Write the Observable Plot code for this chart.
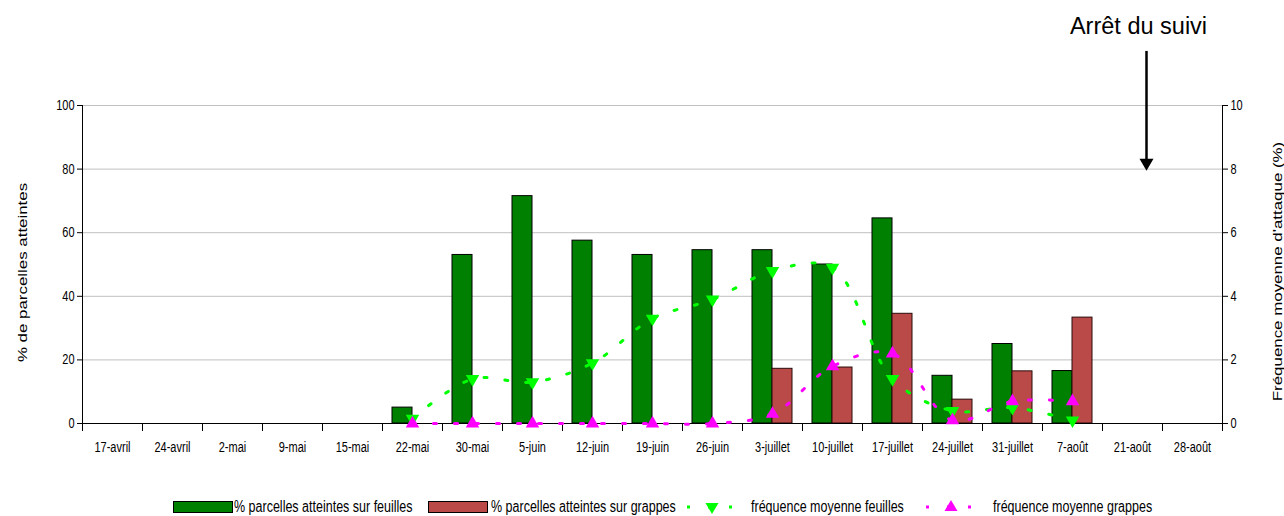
<!DOCTYPE html>
<html>
<head>
<meta charset="utf-8">
<script src="https://cdn.jsdelivr.net/npm/d3@7"></script>
<script src="https://cdn.jsdelivr.net/npm/@observablehq/plot@0.6"></script>
<style>
  html, body { margin: 0; padding: 0; background: #fff; overflow: hidden; }
  #chart { position: relative; width: 1284px; height: 516px; font-family: "Liberation Sans", Arial, sans-serif; }
  #legend { position: absolute; left: 0; top: 470px; width: 1284px; height: 46px; }
  #legend .item { position: absolute; top: 37px; transform: translateY(-50%); display: flex; align-items: center; }
  #legend .sw { display: inline-block; width: 58px; height: 10px; border: 1px solid #000; }
  #legend .lab { position: absolute; top: 37px; font-size: 12.5px; color: #000; white-space: nowrap;
                 transform: translateY(-50%) scaleY(1.25); line-height: 1; }
</style>
</head>
<body>
<div id="chart"><div id="legend"></div></div>
<script>
// Weekly observation dates
const dates = ["17-avril","24-avril","2-mai","9-mai","15-mai","22-mai","30-mai","5-juin","12-juin","19-juin",
               "26-juin","3-juillet","10-juillet","17-juillet","24-juillet","31-juillet","7-août","21-août","28-août"];

// % of plots affected (left axis)
const pctFeuilles = [null,null,null,null,null, 5, 53, 71.5, 57.5, 53, 54.5, 54.5, 50, 64.5, 15, 25, 16.5, null, null];
const pctGrappes  = [null,null,null,null,null, null, null, null, null, null, null, 17.2, 17.6, 34.5, 7.5, 16.4, 33.3, null, null];

// Mean attack frequency, % (right axis)
const freqFeuilles = [null,null,null,null,null, 0.15, 1.4, 1.3, 1.9, 3.3, 3.9, 4.8, 4.9, 1.4, 0.4, 0.5, 0.1, null, null];
const freqGrappes  = [null,null,null,null,null, 0, 0, 0, 0, 0, 0, 0.3, 1.8, 2.2, 0.1, 0.7, 0.7, null, null];

// Axis ticks and titles
const pctTicks = [0, 20, 40, 60, 80, 100];
const freqTicks = [0, 2, 4, 6, 8, 10];
const leftTitle = "% de parcelles atteintes";
const rightTitle = "Fréquence moyenne d'attaque (%)";

// End-of-monitoring note
const note = {label: "Arrêt du suivi", date: "21-août", textAt: 125, from: 117, to: 83, head: 82};

const series = {
  pctF: "% parcelles atteintes sur feuilles",
  pctG: "% parcelles atteintes sur grappes",
  frF: "fréquence moyenne feuilles",
  frG: "fréquence moyenne grappes"
};

const green = "#008000", red = "#B94A48", lime = "#00FF00", magenta = "#FF00FF";

const W = 1284, H = 470, mL = 82, mR = 62, mT = 105, mB = 47;
const step = (W - mL - mR) / dates.length;
const half = step / 3;            // each bar is a third of the category width
const freqScale = 100 / freqTicks[freqTicks.length - 1];

const rows = dates.map((d, i) => ({date: d, pf: pctFeuilles[i], pg: pctGrappes[i], ff: freqFeuilles[i], fg: freqGrappes[i]}));
const rowsFF = rows.filter(r => r.ff != null);
const rowsFG = rows.filter(r => r.fg != null);

const dash = {strokeWidth: 3, strokeDasharray: "3,18", curve: "catmull-rom"};

const chart = Plot.plot({
  width: W, height: H,
  marginLeft: mL, marginRight: mR, marginTop: mT, marginBottom: mB,
  style: {fontFamily: "'Liberation Sans', Arial, sans-serif", background: "white", color: "#000"},
  x: {type: "band", domain: dates, paddingInner: 1/3, paddingOuter: 1/6, axis: null, label: null},
  y: {domain: [0, 100], axis: null, label: null},
  marks: [
    Plot.ruleY(pctTicks.filter(v => v > 0), {stroke: "#c0c0c0", strokeWidth: 1}),
    // bars
    Plot.barY(rows, {filter: r => r.pf != null, x: "date", y1: 0, y2: "pf", insetRight: half, fill: green, stroke: "#000", strokeWidth: 1}),
    Plot.barY(rows, {filter: r => r.pg != null, x: "date", y1: 0, y2: "pg", insetLeft: half, fill: red, stroke: "#2a0a0a", strokeWidth: 1}),
    // axes
    Plot.ruleY([0], {stroke: "#000"}),
    Plot.axisX(dates, {tickSize: 8, tickFormat: () => "", dx: -step / 2, stroke: "#000"}),
    Plot.axisX([dates[dates.length - 1]], {tickSize: 8, tickFormat: () => "", dx: step / 2, stroke: "#000"}),
    Plot.axisX({tickSize: 0, tickPadding: 18, fontSize: 11}),
    Plot.ruleX([dates[0]], {dx: -step / 2, y1: 0, y2: 100, stroke: "#000"}),
    Plot.ruleX([dates[dates.length - 1]], {dx: step / 2, y1: 0, y2: 100, stroke: "#000"}),
    Plot.axisY({anchor: "left", ticks: pctTicks, tickSize: 5, tickPadding: 3, fontSize: 11, label: null}),
    Plot.axisY({anchor: "right", ticks: freqTicks.map(v => v * freqScale), tickFormat: d => d / freqScale,
                tickSize: 5, tickPadding: 3, fontSize: 11, label: null}),
    Plot.text([leftTitle], {frameAnchor: "left", textAnchor: "middle", rotate: -90, dx: -60, dy: 8, fontSize: 13}),
    Plot.text([rightTitle], {frameAnchor: "right", textAnchor: "middle", rotate: -90, dx: 55, dy: 7, fontSize: 13}),
    // frequency lines
    Plot.line(rowsFF, {x: "date", y: r => r.ff * freqScale, stroke: lime, ...dash}),
    Plot.dot(rowsFF, {x: "date", y: r => r.ff * freqScale, symbol: "triangle", rotate: 180, r: 5, fill: lime}),
    Plot.line(rowsFG, {x: "date", y: r => r.fg * freqScale, stroke: magenta, ...dash}),
    Plot.dot(rowsFG, {x: "date", y: r => r.fg * freqScale, symbol: "triangle", r: 5, fill: magenta}),
    // end-of-monitoring note
    Plot.text([note], {x: "date", y: "textAt", text: "label", dx: 6, fontSize: 23.5}),
    Plot.ruleX([note], {x: "date", y1: "from", y2: "to", dx: 14, stroke: "#000", strokeWidth: 2.5}),
    Plot.dot([note], {x: "date", y: "head", dx: 14, symbol: "triangle", rotate: 180, r: 5.2, fill: "#000"})
  ]
});

// Axis texts are drawn vertically elongated
function elongate(svg, k) {
  for (const t of Array.from(svg.querySelectorAll("text"))) {
    if (t.textContent === leftTitle || t.textContent === rightTitle) {
      // rotated titles: stretch along the text direction
      const tr = t.getAttribute("transform") || "";
      t.setAttribute("transform", `${tr} scale(${k},1)`.trim());
      continue;
    }
    const g = t.closest("g[aria-label]");
    const lab = g ? g.getAttribute("aria-label") : "";
    if (!/axis/.test(lab)) continue;
    const m = /translate\(\s*([-\d.e]+)[\s,]+([-\d.e]+)\s*\)/.exec(t.getAttribute("transform") || "");
    if (!m) continue;
    const cy = +m[2];
    const w = document.createElementNS("http://www.w3.org/2000/svg", "g");
    w.setAttribute("transform", `translate(0,${cy}) scale(1,${k}) translate(0,${-cy})`);
    t.parentNode.insertBefore(w, t);
    w.appendChild(t);
  }
}

const root = document.getElementById("chart");
root.insertBefore(chart, root.firstChild);
elongate(chart, 1.3);

// Legend
const legend = document.getElementById("legend");
function addSwatch(x, color) {
  const d = document.createElement("div");
  d.className = "item"; d.style.left = x + "px";
  const s = document.createElement("span"); s.className = "sw"; s.style.background = color;
  d.appendChild(s); legend.appendChild(d);
}
function addLineSample(x, color, down) {
  const ns = "http://www.w3.org/2000/svg";
  const s = document.createElementNS(ns, "svg");
  s.setAttribute("width", 52); s.setAttribute("height", 16);
  s.style.position = "absolute"; s.style.left = x + "px"; s.style.top = "29px";
  const l = document.createElementNS(ns, "line");
  l.setAttribute("x1", 1); l.setAttribute("x2", 51); l.setAttribute("y1", 8); l.setAttribute("y2", 8);
  l.setAttribute("stroke", color); l.setAttribute("stroke-width", 3); l.setAttribute("stroke-dasharray", "3,18");
  s.appendChild(l);
  const p = document.createElementNS(ns, "path");
  p.setAttribute("d", down ? "M-6.5,-4L6.5,-4L0,7Z" : "M-6.5,4L6.5,4L0,-7Z");
  p.setAttribute("transform", "translate(26,8)");
  p.setAttribute("fill", color);
  s.appendChild(p);
  legend.appendChild(s);
}
function addLabel(x, text) {
  const d = document.createElement("div");
  d.className = "lab"; d.style.left = x + "px"; d.textContent = text;
  legend.appendChild(d);
}
addSwatch(173, green); addLabel(234, series.pctF);
addSwatch(428, red);   addLabel(491, series.pctG);
addLineSample(686, lime, true);    addLabel(751, series.frF);
addLineSample(925, magenta, false); addLabel(993, series.frG);
</script>
</body>
</html>
